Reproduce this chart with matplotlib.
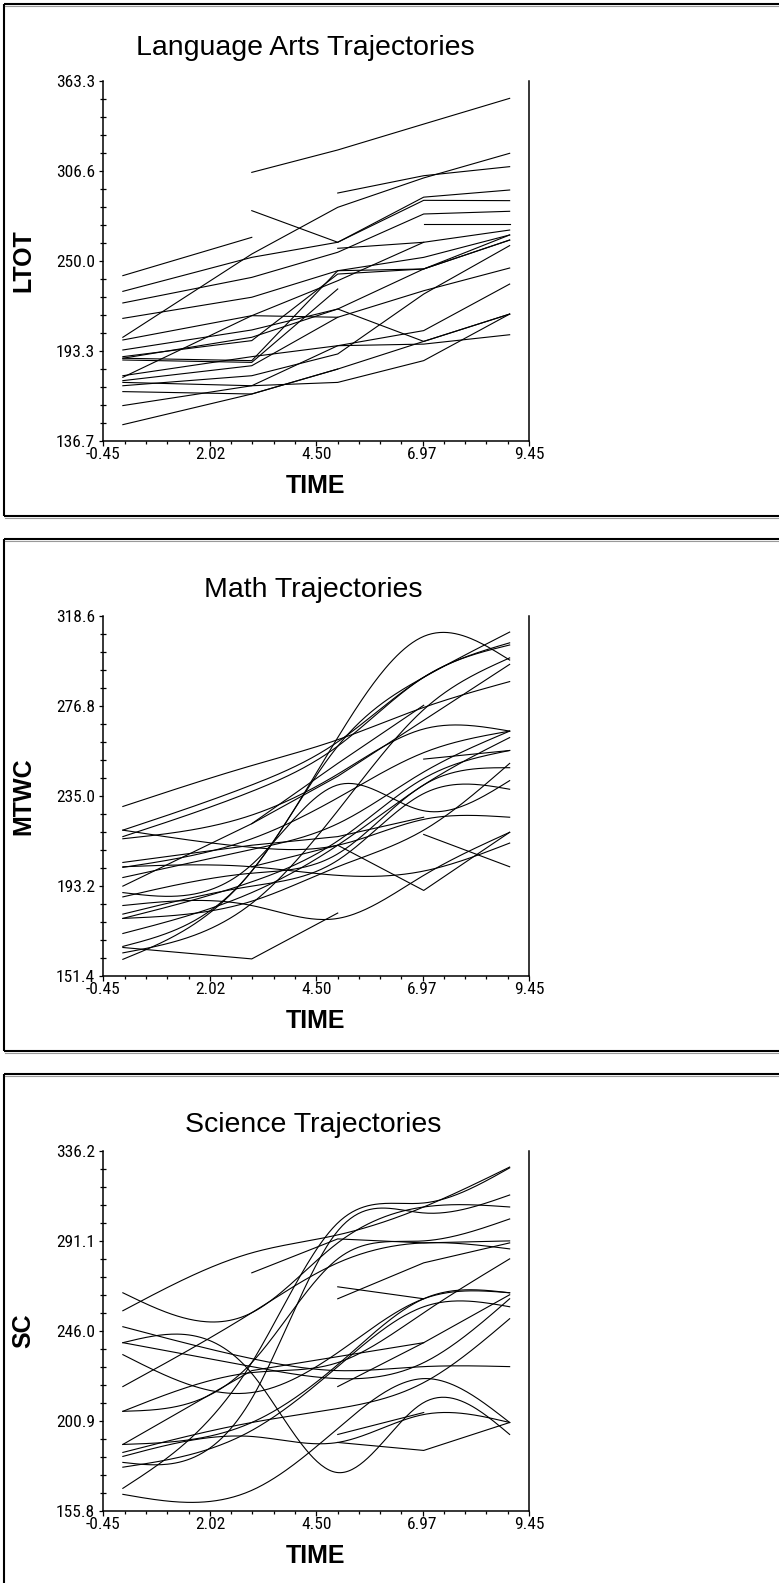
import numpy as np
import matplotlib
matplotlib.use("Agg")
import matplotlib.pyplot as plt
from matplotlib.lines import Line2D
from matplotlib.ticker import FixedLocator, NullFormatter
from matplotlib import font_manager

# measurement occasions
TIME_POINTS = [0, 3, 5, 7, 9]
nan = float("nan")

# Language arts scores per student (one row per student, nan = not tested)
LTOT_SCORES = [
    [nan, 305.6, 319.7, 336.0, 352.2],
    [nan, nan, 292.6, 303.5, 309.2],
    [201.8, 254.2, 283.6, 302.1, 317.6],
    [nan, 281.5, 261.6, 288.0, 287.8],
    [240.6, 264.7, nan, nan, nan],
    [230.7, 252.1, 261.6, 290.0, 294.5],
    [nan, nan, 257.8, 261.6, nan],
    [223.4, 239.5, 255.3, 279.4, 281.1],
    [nan, nan, nan, 273.1, 273.1],
    [213.7, 227.0, 243.7, 252.1, 266.2],
    [200.1, 215.4, 237.4, 261.6, 269.3],
    [193.8, 206.4, 219.6, 199.2, 216.4],
    [177.6, 189.6, 196.5, 197.5, 203.4],
    [188.6, 187.1, 243.7, 244.8, 263.0],
    [187.5, 186.0, 232.2, nan, nan],
    [174.5, 183.9, 214.4, 231.1, 245.4],
    [173.4, 171.3, 173.4, 187.1, 216.4],
    [171.3, 177.6, 191.3, 229.0, 259.5],
    [167.6, 166.1, 181.8, nan, nan],
    [158.8, 171.3, 196.5, 206.0, 235.3],
    [146.8, 166.1, 181.8, 199.2, 216.4],
    [189.6, 199.7, 241.6, 244.8, 263.0],
    [176.6, 215.4, 214.4, nan, nan],
    [188.6, 201.8, 219.6, 244.8, 266.2],
]

# Math scores per student
MTWC_SCORES = [
    [230.0, 249.0, 261.0, 276.0, 288.0],
    [219.0, 240.0, 260.0, 290.0, 306.0],
    [216.0, 237.0, 258.0, 290.0, 305.0],
    [215.0, 226.0, 245.0, 266.0, 265.0],
    [219.0, 211.0, 212.0, 224.0, 225.0],
    [202.0, 202.0, 198.0, 200.0, 213.0],
    [nan, nan, nan, 217.0, 202.0],
    [nan, nan, nan, 252.0, 256.0],
    [164.5, 159.2, 180.5, nan, nan],
    [159.0, 200.0, 262.0, 309.0, 298.0],
    [204.0, 212.0, 216.0, 225.0, nan],
    [193.0, 222.0, 250.0, 277.0, nan],
    [178.0, 195.0, 214.0, 243.0, 256.0],
    [171.0, 190.0, 212.0, 240.0, 262.0],
    [162.0, 185.0, 228.0, 275.0, 299.0],
    [165.0, 200.0, 258.0, 290.0, 311.0],
    [184.0, 184.0, 178.0, 198.0, 218.0],
    [180.0, 193.0, 205.0, 236.0, 238.0],
    [190.0, 203.0, 240.0, 228.0, 242.0],
    [188.0, 199.0, 208.0, 240.0, 248.0],
    [197.0, 210.0, 222.0, 246.0, 265.0],
    [178.0, 186.0, 202.0, 219.0, 250.0],
    [nan, 222.0, 244.0, 270.0, 296.0],
    [201.7, 215.0, 234.0, 255.0, 265.0],
    [nan, 202.0, 212.0, 191.0, 218.0],
]

# Science scores per student
SC_SCORES = [
    [256.0, 285.0, 294.0, 308.0, 328.0],
    [265.0, 255.0, 290.0, 308.0, 308.0],
    [248.0, 232.0, 226.0, 228.0, 228.0],
    [240.0, 228.0, 222.0, 230.0, 262.0],
    [234.0, 215.0, 235.0, 262.0, 265.0],
    [240.0, 224.6, 174.9, 210.0, 194.0],
    [164.0, 166.0, 197.0, 222.0, 200.0],
    [205.6, 230.0, 282.0, 291.0, 302.0],
    [205.6, 225.0, 230.0, 255.0, 282.0],
    [218.0, 255.0, 280.0, 290.0, 287.0],
    [189.0, 200.0, 229.0, 262.0, 265.0],
    [183.0, 193.0, 190.0, 204.0, 200.0],
    [180.0, 212.0, 296.0, 305.0, 314.0],
    [177.6, 196.0, 228.0, 258.0, 258.0],
    [167.0, 230.0, 300.0, 310.0, 327.6],
    [nan, 275.0, 292.0, 290.0, 291.0],
    [nan, nan, 268.0, 262.0, nan],
    [nan, nan, 262.0, 280.0, 290.0],
    [nan, nan, 190.0, 186.0, 200.0],
    [nan, nan, 194.0, 205.0, nan],
    [185.0, 200.0, 207.0, 220.0, 252.0],
    [nan, nan, 218.0, 240.0, 264.0],
    [189.0, 226.0, 233.0, 240.0, nan],
]

PANEL_TITLES = ["Language Arts Trajectories", "Math Trajectories", "Science Trajectories"]
PANEL_YLABELS = ["LTOT", "MTWC", "SC"]
PANEL_YTICKS = [
    ["136.7", "193.3", "250.0", "306.6", "363.3"],
    ["151.4", "193.2", "235.0", "276.8", "318.6"],
    ["155.8", "200.9", "246.0", "291.1", "336.2"],
]
X_TICK_LABELS = ["-0.45", "2.02", "4.50", "6.97", "9.45"]
X_MIN, X_MAX = -0.45, 9.45


def natural_cubic(xk, yk, xs):
    """Natural cubic spline through (xk, yk) evaluated at xs."""
    n = len(xk)
    if n == 2:
        return np.interp(xs, xk, yk)
    h = np.diff(xk)
    A = np.zeros((n, n))
    r = np.zeros(n)
    A[0, 0] = A[-1, -1] = 1.0
    for i in range(1, n - 1):
        A[i, i - 1] = h[i - 1]
        A[i, i] = 2 * (h[i - 1] + h[i])
        A[i, i + 1] = h[i]
        r[i] = 6 * ((yk[i + 1] - yk[i]) / h[i] - (yk[i] - yk[i - 1]) / h[i - 1])
    M = np.linalg.solve(A, r)
    idx = np.clip(np.searchsorted(xk, xs) - 1, 0, n - 2)
    x0, x1 = xk[idx], xk[idx + 1]
    hh = x1 - x0
    a = (x1 - xs) / hh
    b = (xs - x0) / hh
    return a * yk[idx] + b * yk[idx + 1] + ((a ** 3 - a) * M[idx] + (b ** 3 - b) * M[idx + 1]) * hh ** 2 / 6


W, H = 779, 1583
DPI = 100
fig = plt.figure(figsize=(W / DPI, H / DPI), dpi=DPI)
fig.patch.set_facecolor("white")

installed = {f.name for f in font_manager.fontManager.ttflist}
narrow = [n for n in ("Liberation Sans Narrow", "Arial Narrow", "Roboto Condensed",
                      "Open Sans Condensed", "Noto Sans Condensed") if n in installed]
TICK_FONT = narrow[:1] + ["Liberation Sans", "DejaVu Sans"]
TICK_SIZE = 12.5 if narrow else 11.5
TEXT_FONT = ["Liberation Sans", "DejaVu Sans"]


def fx(px):
    return px / W


def fy(py):
    return 1 - py / H


PANEL_STEP = 535
AX_LEFT, AX_RIGHT = 103.5, 529.0
AX_TOP0, AX_BOT0 = 80.7, 440.7
TITLE_X = [305, 313.5, 313.5]
TITLE_BASE = [-25.5, -19, -19]

panels = [LTOT_SCORES, MTWC_SCORES, SC_SCORES]
smooth = [False, True, True]

for k, scores in enumerate(panels):
    off = k * PANEL_STEP
    top, bot = AX_TOP0 + off, AX_BOT0 + off

    # panel frame
    ftop = 4 + off
    fbot = 516 + off
    frame_kw = dict(transform=fig.transFigure, color="black", lw=1.5, solid_capstyle="butt")
    fig.add_artist(Line2D([fx(4), fx(W + 5)], [fy(ftop), fy(ftop)], **frame_kw))
    fig.add_artist(Line2D([fx(4), fx(4)], [fy(ftop), fy(min(fbot, H + 5))], **frame_kw))
    fig.add_artist(Line2D([fx(5), fx(W + 5)], [fy(ftop + 1.8), fy(ftop + 1.8)],
                          transform=fig.transFigure, color="#9a9a9a", lw=0.8))
    if fbot < H:
        fig.add_artist(Line2D([fx(4), fx(W + 5)], [fy(fbot), fy(fbot)], **frame_kw))
        fig.add_artist(Line2D([fx(5), fx(W + 5)], [fy(fbot + 1.8), fy(fbot + 1.8)],
                              transform=fig.transFigure, color="#9a9a9a", lw=0.8))

    ax = fig.add_axes([fx(AX_LEFT), fy(bot), fx(AX_RIGHT - AX_LEFT), (bot - top) / H])
    lo = float(PANEL_YTICKS[k][0])
    hi = float(PANEL_YTICKS[k][-1])
    ax.set_xlim(X_MIN, X_MAX)
    ax.set_ylim(lo, hi)

    t_all = np.array(TIME_POINTS, dtype=float)
    for row in scores:
        y = np.array(row, dtype=float)
        ok = ~np.isnan(y)
        tk, yk = t_all[ok], y[ok]
        if len(tk) < 2:
            continue
        # complete records are drawn as smooth curves, partial ones as polylines
        if smooth[k] and ok.all():
            ts = np.linspace(tk[0], tk[-1], 200)
            ys = natural_cubic(tk, yk, ts)
        else:
            ts, ys = tk, yk
        ax.plot(ts, ys, color="black", lw=0.8, solid_joinstyle="miter")

    # axes styling
    for side in ("left", "bottom", "right"):
        ax.spines[side].set_linewidth(1.1)
        ax.spines[side].set_color("black")
    ax.spines["top"].set_visible(False)

    xt = np.linspace(X_MIN, X_MAX, 5)
    ax.xaxis.set_major_locator(FixedLocator(xt))
    ax.xaxis.set_minor_locator(FixedLocator(np.linspace(X_MIN, X_MAX, 21)))
    ax.set_xticklabels(X_TICK_LABELS)
    yt = np.linspace(lo, hi, 5)
    ax.yaxis.set_major_locator(FixedLocator(yt))
    ax.yaxis.set_minor_locator(FixedLocator(np.linspace(lo, hi, 21)))
    ax.yaxis.set_minor_formatter(NullFormatter())
    ax.set_yticklabels(PANEL_YTICKS[k])

    ax.tick_params(axis="x", which="major", direction="out", length=3.6, width=0.9, pad=1.2,
                   labelsize=TICK_SIZE, colors="black")
    ax.tick_params(axis="x", which="minor", direction="out", length=2.2, width=0.9)
    ax.tick_params(axis="y", which="major", direction="out", length=3.2, width=0.9, pad=2.8,
                   labelsize=TICK_SIZE, colors="black")
    ax.tick_params(axis="y", which="minor", direction="inout", length=4.3, width=0.9)
    for lab in ax.get_xticklabels() + ax.get_yticklabels():
        lab.set_family(TICK_FONT)

    # texts
    fig.text(fx(TITLE_X[k]), fy(top + TITLE_BASE[k]), PANEL_TITLES[k], ha="center",
             va="baseline", fontsize=20.5, family=TEXT_FONT, color="black")
    fig.text(fx(316), fy(bot + 52.6), "TIME", ha="center", va="baseline",
             fontsize=18, fontweight="bold", family=TEXT_FONT, color="black")
    fig.text(fx(23), fy((top + bot) / 2), PANEL_YLABELS[k], ha="center", va="center",
             rotation=90, fontsize=18, fontweight="bold", family=TEXT_FONT, color="black")

fig.savefig("out.png", dpi=DPI, facecolor="white")
